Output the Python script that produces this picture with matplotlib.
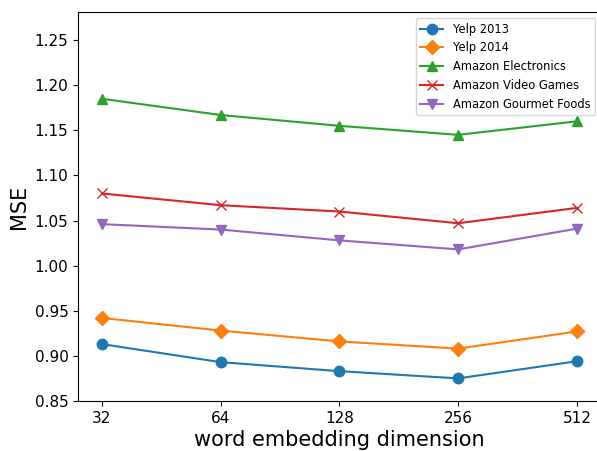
import matplotlib
matplotlib.use("Agg")
from matplotlib import pyplot as plt

dims = ["32", "64", "128", "256", "512"]

yelp_2013 = [0.913, 0.893, 0.883, 0.875, 0.894]
yelp_2014 = [0.942, 0.928, 0.916, 0.908, 0.927]
amazon_electronics = [1.185, 1.167, 1.155, 1.145, 1.160]
amazon_video_games = [1.080, 1.067, 1.060, 1.047, 1.064]
amazon_gourmet_foods = [1.046, 1.040, 1.028, 1.018, 1.041]

series = [
    ("Yelp 2013", yelp_2013, "o", "#1f77b4"),
    ("Yelp 2014", yelp_2014, "D", "#ff7f0e"),
    ("Amazon Electronics", amazon_electronics, "^", "#2ca02c"),
    ("Amazon Video Games", amazon_video_games, "x", "#d62728"),
    ("Amazon Gourmet Foods", amazon_gourmet_foods, "v", "#9467bd"),
]

fig = plt.figure(figsize=(5.97, 4.51), dpi=100)
ax = fig.add_subplot(111)
fig.subplots_adjust(left=0.131, right=1.006, bottom=0.111, top=0.973)

x = list(range(len(dims)))
for label, values, marker, color in series:
    ax.plot(x, values, label=label, marker=marker, color=color, markersize=7.5, linewidth=1.5)

ax.set_xticks(x)
ax.set_xticklabels(dims)
ax.set_xlim(-0.2, 4.2)
ax.set_ylim(0.85, 1.281)
ax.set_yticks([0.85, 0.90, 0.95, 1.00, 1.05, 1.10, 1.15, 1.20, 1.25])
ax.tick_params(labelsize=11)
ax.set_xlabel("word embedding dimension", fontsize=15, labelpad=3)
ax.set_ylabel("MSE", fontsize=15)
ax.legend(loc="upper right", fontsize=8.3)

fig.savefig("out.png", dpi=100)
